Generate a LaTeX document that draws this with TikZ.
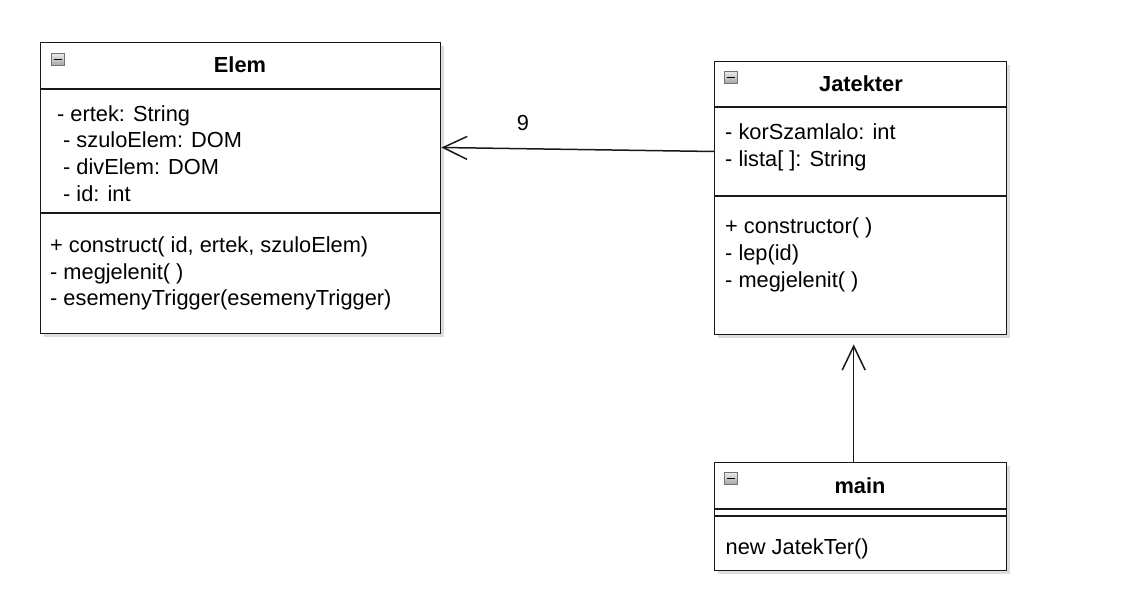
\documentclass[tikz,border=0pt]{standalone}
\usepackage{fontspec}
\setmainfont{Liberation Sans}
\usetikzlibrary{arrows.meta,shadows}
\tikzset{
  umlbox/.style={draw=black!90, line width=1.4pt, fill=white, anchor=north west,
    inner sep=0pt, drop shadow={shadow xshift=3pt, shadow yshift=-3pt, opacity=0.22, fill=black!60}},
  divider/.style={draw=black!90, line width=1.1pt},
  title/.style={font=\fontsize{21.8}{26}\selectfont\bfseries, anchor=base, inner sep=0pt},
  member/.style={font=\fontsize{21.8}{26}\selectfont, anchor=base west, inner sep=0pt},
  icon/.style={draw=black!55, line width=0.8pt, top color=black!8, bottom color=black!35,
    minimum width=13pt, minimum height=12pt, inner sep=0pt, anchor=north west},
  assoc/.style={draw=black!90, line width=1.5pt, -{Straight Barb[length=24pt,width=23pt]}},
}
\newcommand\minusmark[1]{\draw[line width=1.3pt] ([xshift=2.5pt]#1.west) -- ([xshift=-2.5pt]#1.east);}
\begin{document}
\begin{tikzpicture}[x=1pt,y=-1pt]
\useasboundingbox (0,0) rectangle (1123,596);
% ---------- Elem ----------
\node[umlbox, minimum width=400pt, minimum height=291pt] (elem) at (40,42) {};
\draw[divider] (40,89) -- (440,89);
\draw[divider] (40,213) -- (440,213);
\node[icon] (iconE) at (51,53) {};
\minusmark{iconE}
\node[title] (elemT) at (240,73) {Elem};
\node[member] (e1) at (57,121.5) {- ertek: String};
\node[member] (e2) at (63,148) {- szuloElem: DOM};
\node[member] (e3) at (63,174.5) {- divElem: DOM};
\node[member] (e4) at (63,201) {- id: int};
\node[member] (e5) at (50,252.5) {+ construct( id, ertek, szuloElem)};
\node[member] (e6) at (50,279) {- megjelenit( )};
\node[member] (e7) at (50,305) {- esemenyTrigger(esemenyTrigger)};
% ---------- Jatekter ----------
\node[umlbox, minimum width=292pt, minimum height=273pt] (jat) at (714,61) {};
\draw[divider] (714,107) -- (1006,107);
\draw[divider] (714,196) -- (1006,196);
\node[icon] (iconJ) at (724,71) {};
\minusmark{iconJ}
\node[title] (jatT) at (861,91.5) {Jatekter};
\node[member] (j1) at (725,139.5) {- korSzamlalo: int};
\node[member] (j2) at (725,166.5) {- lista[ ]: String};
\node[member] (j3) at (725,233.5) {+ constructor( )};
\node[member] (j4) at (725,260.5) {- lep(id)};
\node[member] (j5) at (725,287) {- megjelenit( )};
% ---------- main ----------
\node[umlbox, minimum width=292pt, minimum height=108pt] (main) at (714,462) {};
\draw[divider] (714,509) -- (1006,509);
\draw[divider] (714,516) -- (1006,516);
\node[icon] (iconM) at (724,472) {};
\minusmark{iconM}
\node[title] (mainT) at (860,493.5) {main};
\node[member] (m1) at (725.5,554.5) {new JatekTer()};
% ---------- connectors ----------
\draw[assoc] (jat.north west |- 0,151.5) -- (elem.north east |- 0,147.5);
\node[member, anchor=base] (lbl) at (523,131) {9};
\draw[assoc] ([xshift=-7pt]main.north) -- ([xshift=-7pt,yshift=-9pt]jat.south);
\end{tikzpicture}
\end{document}
